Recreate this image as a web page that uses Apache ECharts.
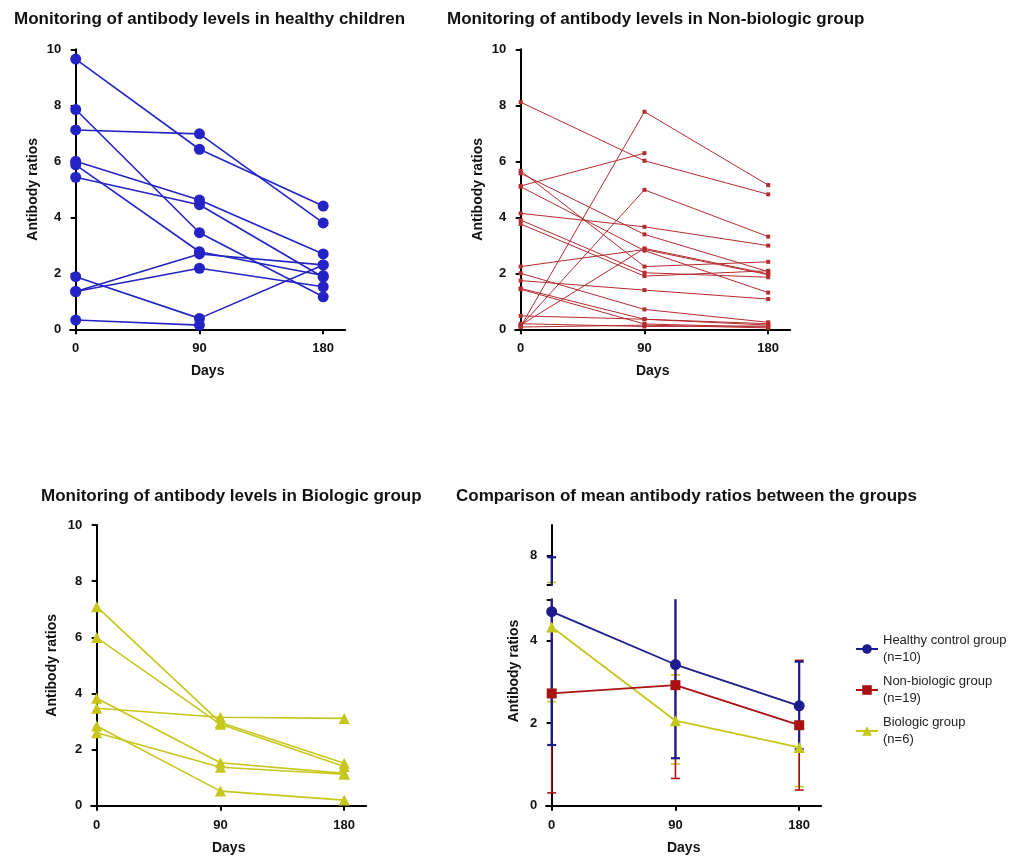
<!DOCTYPE html>
<html>
<head>
<meta charset="utf-8">
<script src="https://cdn.jsdelivr.net/npm/echarts@6/dist/echarts.min.js"></script>
<style>
  html, body { margin: 0; padding: 0; background: #fff; }
  #chart { width: 1032px; height: 857px; }
</style>
</head>
<body>
<div id="chart"></div>
<script>
// days of follow-up
const days = [0, 90, 180];
const dayTicks = [0, 90, 180];

// healthy children, one entry per child
const healthy0 = [9.65, 7.85, 7.12, 6.00, 5.87, 5.43, 1.35, 1.35, 1.88, 0.33];
const healthy90 = [6.43, 3.45, 6.98, 4.62, 2.77, 4.45, 2.69, 2.18, 0.39, 0.15];
const healthy180 = [4.40, 1.16, 3.80, 2.69, 1.92, 1.86, 2.30, 1.52, 2.30, null];

// non-biologic group
const nonBio0 = [8.11, 0.10, 5.12, 0.12, 4.14, 5.66, 5.57, 5.09, 3.90, 3.76, 0.15, 2.24, 2.00, 1.74, 1.46, 1.43, 0.48, 0.20, 0.08];
const nonBio90 = [6.02, 7.77, 6.29, 4.98, 3.66, 2.24, 3.39, 2.81, 2.02, 1.90, 2.89, 2.85, 0.71, 1.40, 0.36, 0.19, 0.36, 0.10, 0.15];
const nonBio180 = [4.82, 5.15, null, 3.31, 2.99, 2.41, 2.06, 1.31, 1.86, 2.09, 1.98, 1.95, 0.25, 1.08, 0.15, 0.08, 0.20, 0.12, 0.05];

// biologic group
const bio0 = [7.09, 5.99, 3.47, 3.83, 2.84, 2.60];
const bio90 = [2.96, 2.90, 3.15, 1.53, 0.52, 1.37];
const bio180 = [1.51, 1.40, 3.11, 1.15, 0.20, 1.12];

// group means with error bar ends
const healthyMean = [4.70, 3.42, 2.42];
const healthyLow = [1.47, 1.15, 1.37];
const healthyHigh = [7.96, 5.69, 3.49];
const nonBioMean = [2.72, 2.92, 1.95];
const nonBioLow = [0.31, 0.66, 0.38];
const nonBioHigh = [5.12, 5.18, 3.52];
const bioMean = [4.33, 2.06, 1.41];
const bioLow = [2.52, 1.01, 0.46];
const bioHigh = [7.35, 3.17, 2.36];

const groupNames = ['Healthy control group\n(n=10)', 'Non-biologic group\n(n=19)', 'Biologic group\n(n=6)'];
const axisTicks = [0, 2, 4, 6, 8, 10];

const FONT = "'Liberation Sans', Arial, sans-serif";
const BLUE = '#2424c6';
const RED = '#b52c30';
const YELLOW = '#c6c61c';
const NAVY = '#1c1c8e';
const DARKRED = '#aa1212';

const chart = echarts.init(document.getElementById('chart'));

function xAxisFor(gridIndex, show) {
  return {
    gridIndex: gridIndex, type: 'value', min: -4, max: 196, show: show,
    name: 'Days', nameLocation: 'middle', nameGap: 35,
    nameTextStyle: { fontFamily: FONT, fontWeight: 'bold', fontSize: 14, color: '#111' },
    axisLine: { onZero: false, lineStyle: { color: '#000', width: 2 } },
    axisTick: { customValues: dayTicks, length: 5, lineStyle: { color: '#000', width: 2 } },
    axisLabel: { customValues: dayTicks, margin: 13, fontFamily: FONT, fontWeight: 'bold', fontSize: 13, color: '#111' },
    splitLine: { show: false }
  };
}

function yAxisFor(gridIndex, min, max, ticks, labels, name) {
  return {
    gridIndex: gridIndex, type: 'value', min: min, max: max,
    name: name, nameLocation: 'middle', nameGap: 30,
    nameTextStyle: { fontFamily: FONT, fontWeight: 'bold', fontSize: 14, color: '#111' },
    axisLine: { show: true, lineStyle: { color: '#000', width: 2 } },
    axisTick: { show: true, customValues: ticks, length: 5, lineStyle: { color: '#000', width: 2 } },
    axisLabel: { customValues: labels, margin: 9, fontFamily: FONT, fontWeight: 'bold', fontSize: 13, color: '#111' },
    splitLine: { show: false }
  };
}

function subjectSeries(d0, d90, d180, idx, style) {
  let list = [];
  for (let i = 0; i < d0.length; i++) {
    let pts = [[days[0], d0[i]], [days[1], d90[i]]];
    if (d180[i] != null) pts.push([days[2], d180[i]]);
    list.push(Object.assign({
      type: 'line', xAxisIndex: idx, yAxisIndex: idx,
      data: pts, silent: true, animation: false
    }, style));
  }
  return list;
}

// vertical bar with caps, clipped to its grid
function errorBars(idx, low, high, color, z, width) {
  return {
    type: 'custom', xAxisIndex: idx, yAxisIndex: idx, z: z, silent: true, animation: false,
    data: days.map((d, i) => [d, low[i], high[i]]),
    renderItem: function (params, api) {
      const cs = params.coordSys;
      const top = cs.y, bottom = cs.y + cs.height;
      const pLo = api.coord([api.value(0), api.value(1)]);
      const pHi = api.coord([api.value(0), api.value(2)]);
      const x = pLo[0];
      const y1 = Math.min(Math.max(pLo[1], top), bottom);
      const y2 = Math.min(Math.max(pHi[1], top), bottom);
      if (Math.abs(y1 - y2) < 0.5) return null;
      const st = { stroke: color, lineWidth: width };
      let kids = [{ type: 'line', shape: { x1: x, y1: y1, x2: x, y2: y2 }, style: st }];
      if (pLo[1] <= bottom && pLo[1] >= top) kids.push({ type: 'line', shape: { x1: x - 4.5, y1: pLo[1], x2: x + 4.5, y2: pLo[1] }, style: st });
      if (pHi[1] <= bottom && pHi[1] >= top) kids.push({ type: 'line', shape: { x1: x - 4.5, y1: pHi[1], x2: x + 4.5, y2: pHi[1] }, style: st });
      return { type: 'group', children: kids };
    }
  };
}

function meanSeries(name, values, color, symbol, size) {
  return {
    name: name, type: 'line', xAxisIndex: 3, yAxisIndex: 3, z: 5, animation: false,
    data: days.map((d, i) => [d, values[i]]),
    symbol: symbol, symbolSize: size,
    lineStyle: { color: color, width: 1.8 },
    itemStyle: { color: color }
  };
}

const titleStyle = { fontFamily: FONT, fontWeight: 'bold', fontSize: 17, color: '#111' };

let series = [];
series = series.concat(subjectSeries(healthy0, healthy90, healthy180, 0, {
  symbol: 'circle', symbolSize: 11, lineStyle: { color: BLUE, width: 1.6 }, itemStyle: { color: BLUE }
}));
series = series.concat(subjectSeries(nonBio0, nonBio90, nonBio180, 1, {
  symbol: 'rect', symbolSize: 4, lineStyle: { color: RED, width: 1 }, itemStyle: { color: RED }
}));
series = series.concat(subjectSeries(bio0, bio90, bio180, 2, {
  symbol: 'triangle', symbolSize: 11, lineStyle: { color: YELLOW, width: 1.6 }, itemStyle: { color: YELLOW }
}));
[3, 4].forEach(function (g) {
  series.push(errorBars(g, bioLow, bioHigh, YELLOW, 2, 1.6));
  series.push(errorBars(g, nonBioLow, nonBioHigh, DARKRED, 3, 1.6));
  series.push(errorBars(g, healthyLow, healthyHigh, NAVY, 4, 2.2));
});
series.push(meanSeries(groupNames[2], bioMean, YELLOW, 'triangle', 11));
series.push(meanSeries(groupNames[1], nonBioMean, DARKRED, 'rect', 10));
series.push(meanSeries(groupNames[0], healthyMean, NAVY, 'circle', 11));

const option = {
  backgroundColor: '#fff',
  animation: false,
  title: [
    { text: 'Monitoring of antibody levels in healthy children', left: 9, top: 6, textStyle: titleStyle },
    { text: 'Monitoring of antibody levels in Non-biologic group', left: 442, top: 6, textStyle: titleStyle },
    { text: 'Monitoring of antibody levels in Biologic group', left: 36, top: 483, textStyle: titleStyle },
    { text: 'Comparison of mean antibody ratios between the groups', left: 451, top: 483, textStyle: titleStyle }
  ],
  legend: {
    data: [groupNames[0], groupNames[1], groupNames[2]],
    orient: 'vertical', left: 850, top: 627, itemGap: 7,
    itemWidth: 22, itemHeight: 12,
    textStyle: { fontFamily: FONT, fontSize: 13, color: '#222', lineHeight: 17 }
  },
  graphic: [{
    type: 'text', x: 514, y: 671, rotation: Math.PI / 2,
    style: { text: 'Antibody ratios', fontFamily: FONT, fontWeight: 'bold', fontSize: 14, fill: '#111', align: 'center', verticalAlign: 'middle' }
  }],
  grid: [
    { left: 70.2, top: 49.3, width: 275, height: 280 },
    { left: 515.2, top: 49.3, width: 275, height: 280 },
    { left: 91.2, top: 525, width: 275, height: 280.7 },
    { left: 546.2, top: 599.3, width: 275, height: 206.4 },
    { left: 546.2, top: 525, width: 275, height: 60 }
  ],
  xAxis: [xAxisFor(0, true), xAxisFor(1, true), xAxisFor(2, true), xAxisFor(3, true), xAxisFor(4, false)],
  yAxis: [
    yAxisFor(0, 0, 10, axisTicks, axisTicks, 'Antibody ratios'),
    yAxisFor(1, 0, 10, axisTicks, axisTicks, 'Antibody ratios'),
    yAxisFor(2, 0, 10, axisTicks, axisTicks, 'Antibody ratios'),
    yAxisFor(3, 0, 5, [0, 2, 4, 5], [0, 2, 4], ''),
    yAxisFor(4, 7.29, 8.74, [7.29, 8], [8], '')
  ],
  series: series
};
option.yAxis[0].nameGap = 30;
option.yAxis[1].nameGap = 30;
option.yAxis[2].nameGap = 32;

chart.setOption(option);
</script>
</body>
</html>
